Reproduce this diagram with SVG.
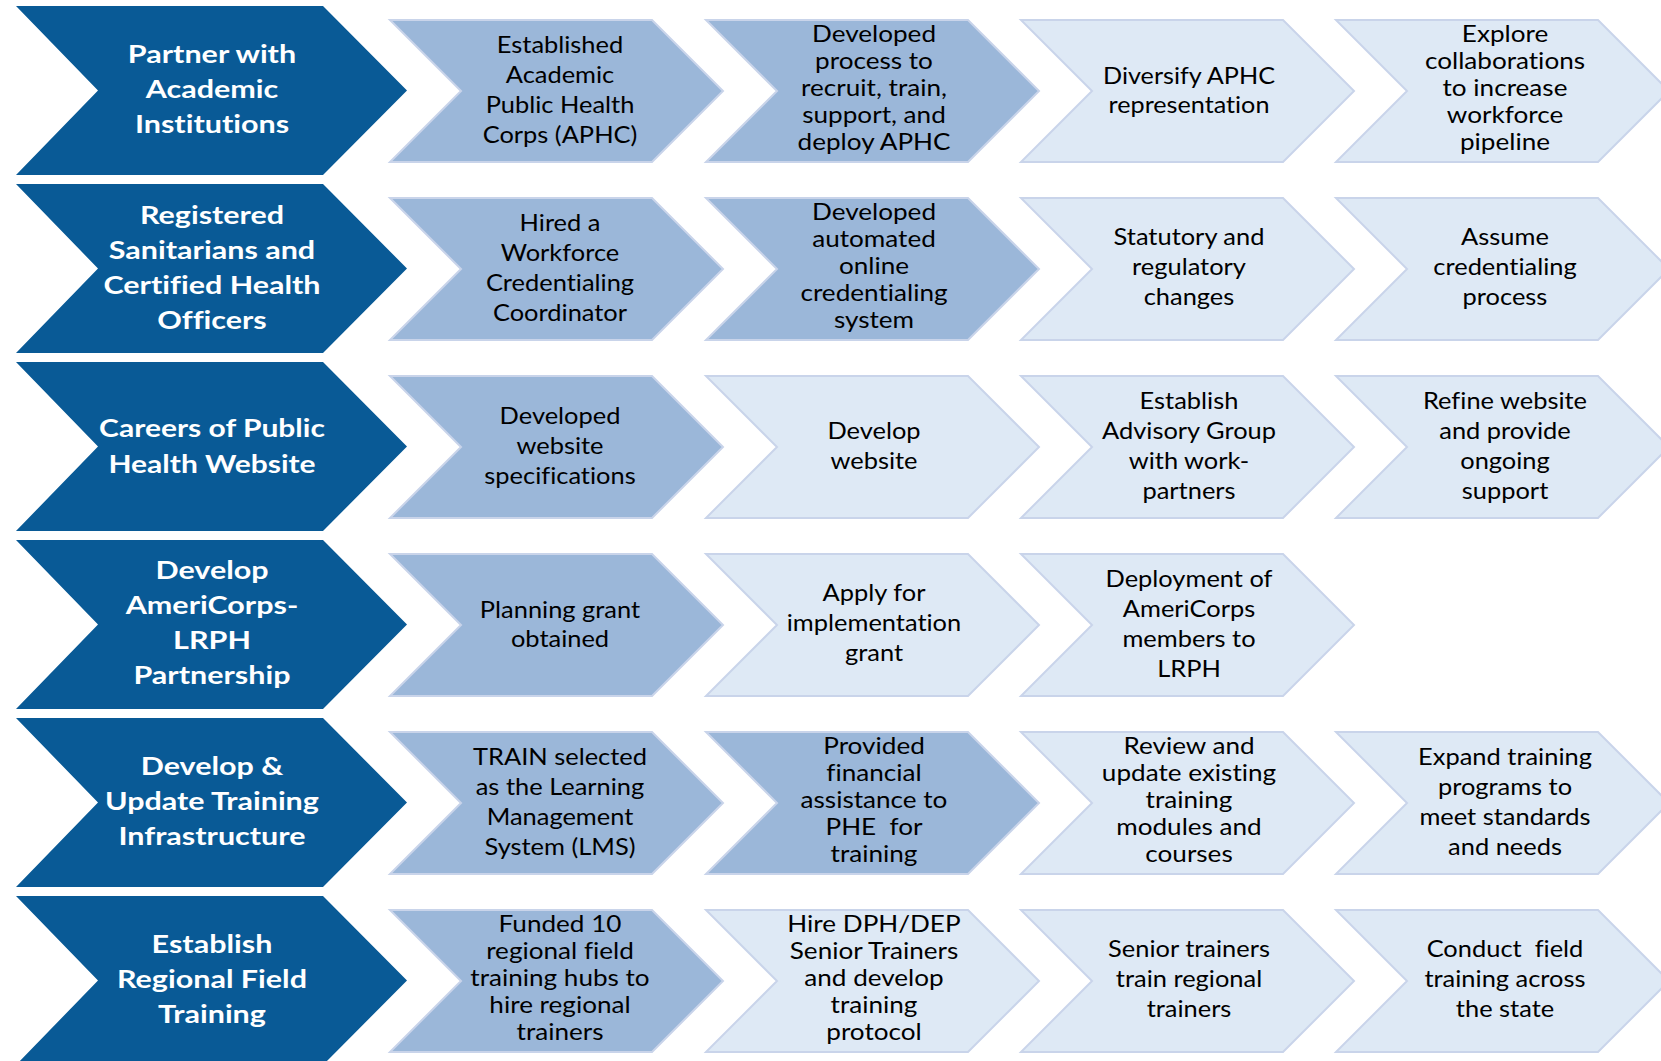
<svg xmlns="http://www.w3.org/2000/svg" width="1661" height="1061" viewBox="0 0 1661 1061">
<style>
.dk{fill:#095A96}
.md{fill:#9BB7D9;stroke:#C9D4EA;stroke-width:2}
.lt{fill:#DEE9F5;stroke:#C9D4EA;stroke-width:2}
text{font-family:Lato,"Liberation Sans",sans-serif;text-anchor:middle;font-variant-ligatures:none}
.t0{font-weight:700;font-size:25px;fill:#FFFFFF}
.t1{font-size:24px;fill:#000000}
.t2{font-size:23px;fill:#000000}
</style>
<rect width="1661" height="1061" fill="#FFFFFF"/>

<!-- Row 1 -->
<g id="r1-head"><polygon class="dk" points="16,6 323,6 407,90.5 323,175 16,175 98,90.5"/>
<text class="t0" transform="translate(212,0) scale(1.22,1)"><tspan x="0" y="63">Partner with</tspan><tspan x="0" y="98">Academic</tspan><tspan x="0" y="133">Institutions</tspan></text></g>
<g id="r1-c1"><polygon class="md" points="390,20 652,20 723,91 652,162 390,162 461,91"/>
<text class="t1" transform="translate(560,0) scale(1.06,1)"><tspan x="0" y="53">Established</tspan><tspan x="0" y="83">Academic</tspan><tspan x="0" y="113">Public Health</tspan><tspan x="0" y="143">Corps (APHC)</tspan></text></g>
<g id="r1-c2"><polygon class="md" points="706,20 968,20 1039,91 968,162 706,162 777,91"/>
<text class="t2" transform="translate(874,0) scale(1.135,1)"><tspan x="0" y="42">Developed</tspan><tspan x="0" y="69">process to</tspan><tspan x="0" y="96">recruit, train,</tspan><tspan x="0" y="123">support, and</tspan><tspan x="0" y="150">deploy APHC</tspan></text></g>
<g id="r1-c3"><polygon class="lt" points="1021,20 1283,20 1354,91 1283,162 1021,162 1092,91"/>
<text class="t1" transform="translate(1189,0) scale(1.05,1)"><tspan x="0" y="84">Diversify APHC</tspan><tspan x="0" y="113">representation</tspan></text></g>
<g id="r1-c4"><polygon class="lt" points="1336,20 1598,20 1669,91 1598,162 1336,162 1407,91"/>
<text class="t2" transform="translate(1505,0) scale(1.135,1)"><tspan x="0" y="42">Explore</tspan><tspan x="0" y="69">collaborations</tspan><tspan x="0" y="96">to increase</tspan><tspan x="0" y="123">workforce</tspan><tspan x="0" y="150">pipeline</tspan></text></g>

<!-- Row 2 -->
<g id="r2-head"><polygon class="dk" points="16,184 323,184 407,268.5 323,353 16,353 98,268.5"/>
<text class="t0" transform="translate(212,0) scale(1.22,1)"><tspan x="0" y="224">Registered</tspan><tspan x="0" y="259">Sanitarians and</tspan><tspan x="0" y="294">Certified Health</tspan><tspan x="0" y="329">Officers</tspan></text></g>
<g id="r2-c1"><polygon class="md" points="390,198 652,198 723,269 652,340 390,340 461,269"/>
<text class="t1" transform="translate(560,0) scale(1.06,1)"><tspan x="0" y="231">Hired a</tspan><tspan x="0" y="261">Workforce</tspan><tspan x="0" y="291">Credentialing</tspan><tspan x="0" y="321">Coordinator</tspan></text></g>
<g id="r2-c2"><polygon class="md" points="706,198 968,198 1039,269 968,340 706,340 777,269"/>
<text class="t2" transform="translate(874,0) scale(1.135,1)"><tspan x="0" y="220">Developed</tspan><tspan x="0" y="247">automated</tspan><tspan x="0" y="274">online</tspan><tspan x="0" y="301">credentialing</tspan><tspan x="0" y="328">system</tspan></text></g>
<g id="r2-c3"><polygon class="lt" points="1021,198 1283,198 1354,269 1283,340 1021,340 1092,269"/>
<text class="t1" transform="translate(1189,0) scale(1.06,1)"><tspan x="0" y="245">Statutory and</tspan><tspan x="0" y="275">regulatory</tspan><tspan x="0" y="305">changes</tspan></text></g>
<g id="r2-c4"><polygon class="lt" points="1336,198 1598,198 1669,269 1598,340 1336,340 1407,269"/>
<text class="t1" transform="translate(1505,0) scale(1.06,1)"><tspan x="0" y="245">Assume</tspan><tspan x="0" y="275">credentialing</tspan><tspan x="0" y="305">process</tspan></text></g>

<!-- Row 3 -->
<g id="r3-head"><polygon class="dk" points="16,362 323,362 407,446.5 323,531 16,531 98,446.5"/>
<text class="t0" transform="translate(212,0) scale(1.2,1)"><tspan x="0" y="437">Careers of Public</tspan><tspan x="0" y="473">Health Website</tspan></text></g>
<g id="r3-c1"><polygon class="md" points="390,376 652,376 723,447 652,518 390,518 461,447"/>
<text class="t1" transform="translate(560,0) scale(1.06,1)"><tspan x="0" y="424">Developed</tspan><tspan x="0" y="454">website</tspan><tspan x="0" y="484">specifications</tspan></text></g>
<g id="r3-c2"><polygon class="lt" points="706,376 968,376 1039,447 968,518 706,518 777,447"/>
<text class="t1" transform="translate(874,0) scale(1.06,1)"><tspan x="0" y="439">Develop</tspan><tspan x="0" y="469">website</tspan></text></g>
<g id="r3-c3"><polygon class="lt" points="1021,376 1283,376 1354,447 1283,518 1021,518 1092,447"/>
<text class="t1" transform="translate(1189,0) scale(1.06,1)"><tspan x="0" y="409">Establish</tspan><tspan x="0" y="439">Advisory Group</tspan><tspan x="0" y="469">with work-</tspan><tspan x="0" y="499">partners</tspan></text></g>
<g id="r3-c4"><polygon class="lt" points="1336,376 1598,376 1669,447 1598,518 1336,518 1407,447"/>
<text class="t1" transform="translate(1505,0) scale(1.06,1)"><tspan x="0" y="409">Refine website</tspan><tspan x="0" y="439">and provide</tspan><tspan x="0" y="469">ongoing</tspan><tspan x="0" y="499">support</tspan></text></g>

<!-- Row 4 -->
<g id="r4-head"><polygon class="dk" points="16,540 323,540 407,624.5 323,709 16,709 98,624.5"/>
<text class="t0" transform="translate(212,0) scale(1.22,1)"><tspan x="0" y="579">Develop</tspan><tspan x="0" y="614">AmeriCorps-</tspan><tspan x="0" y="649">LRPH</tspan><tspan x="0" y="684">Partnership</tspan></text></g>
<g id="r4-c1"><polygon class="md" points="390,554 652,554 723,625 652,696 390,696 461,625"/>
<text class="t1" transform="translate(560,0) scale(1.06,1)"><tspan x="0" y="618">Planning grant</tspan><tspan x="0" y="647">obtained</tspan></text></g>
<g id="r4-c2"><polygon class="lt" points="706,554 968,554 1039,625 968,696 706,696 777,625"/>
<text class="t1" transform="translate(874,0) scale(1.06,1)"><tspan x="0" y="601">Apply for</tspan><tspan x="0" y="631">implementation</tspan><tspan x="0" y="661">grant</tspan></text></g>
<g id="r4-c3"><polygon class="lt" points="1021,554 1283,554 1354,625 1283,696 1021,696 1092,625"/>
<text class="t1" transform="translate(1189,0) scale(1.06,1)"><tspan x="0" y="587">Deployment of</tspan><tspan x="0" y="617">AmeriCorps</tspan><tspan x="0" y="647">members to</tspan><tspan x="0" y="677">LRPH</tspan></text></g>

<!-- Row 5 -->
<g id="r5-head"><polygon class="dk" points="16,718 323,718 407,802.5 323,887 16,887 98,802.5"/>
<text class="t0" transform="translate(212,0) scale(1.22,1)"><tspan x="0" y="775">Develop &amp;</tspan><tspan x="0" y="810">Update Training</tspan><tspan x="0" y="845">Infrastructure</tspan></text></g>
<g id="r5-c1"><polygon class="md" points="390,732 652,732 723,803 652,874 390,874 461,803"/>
<text class="t1" transform="translate(560,0) scale(1.06,1)"><tspan x="0" y="765">TRAIN selected</tspan><tspan x="0" y="795">as the Learning</tspan><tspan x="0" y="825">Management</tspan><tspan x="0" y="855">System (LMS)</tspan></text></g>
<g id="r5-c2"><polygon class="md" points="706,732 968,732 1039,803 968,874 706,874 777,803"/>
<text class="t2" transform="translate(874,0) scale(1.135,1)"><tspan x="0" y="754">Provided</tspan><tspan x="0" y="781">financial</tspan><tspan x="0" y="808">assistance to</tspan><tspan x="0" y="835">PHE&#160; for</tspan><tspan x="0" y="862">training</tspan></text></g>
<g id="r5-c3"><polygon class="lt" points="1021,732 1283,732 1354,803 1283,874 1021,874 1092,803"/>
<text class="t2" transform="translate(1189,0) scale(1.135,1)"><tspan x="0" y="754">Review and</tspan><tspan x="0" y="781">update existing</tspan><tspan x="0" y="808">training</tspan><tspan x="0" y="835">modules and</tspan><tspan x="0" y="862">courses</tspan></text></g>
<g id="r5-c4"><polygon class="lt" points="1336,732 1598,732 1669,803 1598,874 1336,874 1407,803"/>
<text class="t1" transform="translate(1505,0) scale(1.06,1)"><tspan x="0" y="765">Expand training</tspan><tspan x="0" y="795">programs to</tspan><tspan x="0" y="825">meet standards</tspan><tspan x="0" y="855">and needs</tspan></text></g>

<!-- Row 6 -->
<g id="r6-head"><polygon class="dk" points="16,896 323,896 407,980.5 323,1065 16,1065 98,980.5"/>
<text class="t0" transform="translate(212,0) scale(1.22,1)"><tspan x="0" y="953">Establish</tspan><tspan x="0" y="988">Regional Field</tspan><tspan x="0" y="1023">Training</tspan></text></g>
<g id="r6-c1"><polygon class="md" points="390,910 652,910 723,981 652,1052 390,1052 461,981"/>
<text class="t2" transform="translate(560,0) scale(1.135,1)"><tspan x="0" y="932">Funded 10</tspan><tspan x="0" y="959">regional field</tspan><tspan x="0" y="986">training hubs to</tspan><tspan x="0" y="1013">hire regional</tspan><tspan x="0" y="1040">trainers</tspan></text></g>
<g id="r6-c2"><polygon class="lt" points="706,910 968,910 1039,981 968,1052 706,1052 777,981"/>
<text class="t2" transform="translate(874,0) scale(1.135,1)"><tspan x="0" y="932">Hire DPH/DEP</tspan><tspan x="0" y="959">Senior Trainers</tspan><tspan x="0" y="986">and develop</tspan><tspan x="0" y="1013">training</tspan><tspan x="0" y="1040">protocol</tspan></text></g>
<g id="r6-c3"><polygon class="lt" points="1021,910 1283,910 1354,981 1283,1052 1021,1052 1092,981"/>
<text class="t1" transform="translate(1189,0) scale(1.06,1)"><tspan x="0" y="957">Senior trainers</tspan><tspan x="0" y="987">train regional</tspan><tspan x="0" y="1017">trainers</tspan></text></g>
<g id="r6-c4"><polygon class="lt" points="1336,910 1598,910 1669,981 1598,1052 1336,1052 1407,981"/>
<text class="t1" transform="translate(1505,0) scale(1.06,1)"><tspan x="0" y="957">Conduct&#160; field</tspan><tspan x="0" y="987">training across</tspan><tspan x="0" y="1017">the state</tspan></text></g>
</svg>
